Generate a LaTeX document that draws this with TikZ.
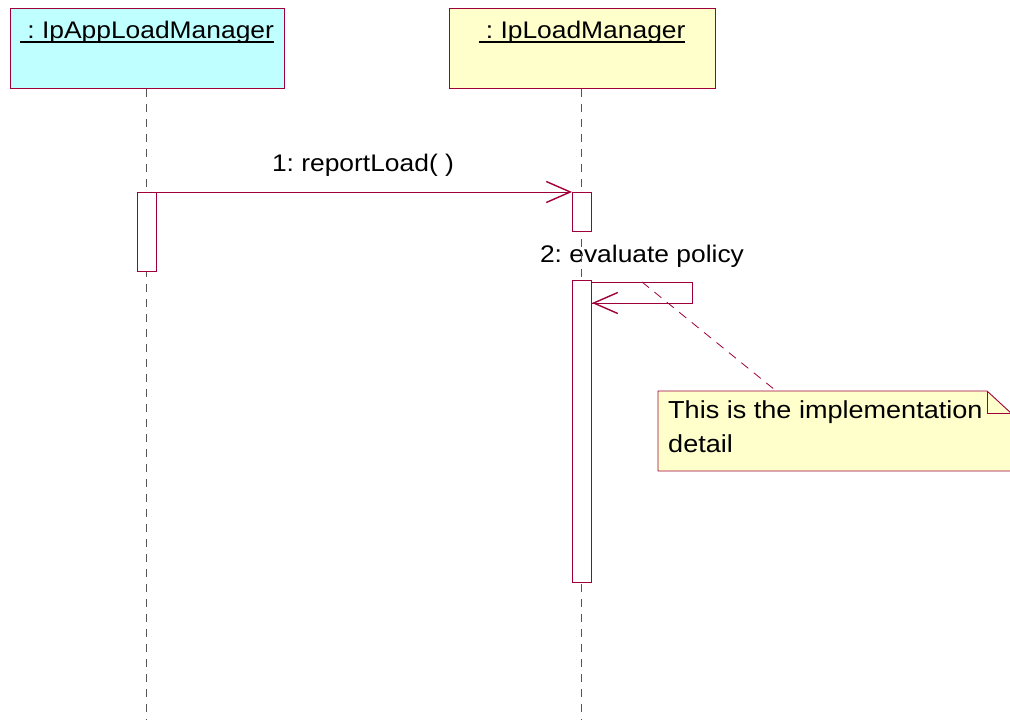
\documentclass[tikz,border=0pt]{standalone}
\usepackage{fontspec}
\setmainfont[FakeStretch=1.1]{Liberation Sans}
\usetikzlibrary{arrows.meta}
\definecolor{umlred}{HTML}{A0003A}
\definecolor{umlcyan}{HTML}{C0FFFF}
\definecolor{umlyellow}{HTML}{FFFFCC}
\definecolor{lifegray}{HTML}{555555}
\newcommand{\myul}[1]{\setbox0=\hbox{#1}\leavevmode\rlap{\rule[-4.5pt]{\wd0}{1.6pt}}\box0}
\tikzset{
  objbox/.style={draw=umlred, line width=0.9pt, minimum width=#1, minimum height=80pt, inner sep=0pt, anchor=north west},
  lbl/.style={font=\fontsize{24}{28}\selectfont, inner sep=0pt, anchor=base},
  notelbl/.style={font=\fontsize{24.6}{28}\selectfont, inner sep=0pt, anchor=base west},
  lifeline/.style={draw=lifegray, line width=1pt, dash pattern=on 8pt off 7pt},
  actbar/.style={draw=umlred, fill=white, line width=0.9pt, minimum width=19pt, minimum height=#1, inner sep=0pt, anchor=north west},
  msg/.style={draw=umlred, line width=0.9pt, -{Straight Barb[length=24pt,width=21pt,line width=1.4pt]}},
  notelink/.style={draw=umlred, line width=0.8pt, dash pattern=on 9pt off 7pt},
}
\begin{document}
\begin{tikzpicture}[x=1pt,y=-1pt]
\useasboundingbox (0,0) rectangle (1010,720);
\clip (0,0) rectangle (1010,720);
% object boxes
\node[objbox=274pt, fill=umlcyan] (app) at (10,8) {};
\node[objbox=266pt, fill=umlyellow] (mgr) at (449,8) {};
\node[lbl] (appt) at (147,38) {\myul{\ :\ IpAppLoadManager}};
\node[lbl] (mgrt) at (582,38) {\myul{\ :\ IpLoadManager}};
% message labels
\node[lbl] (m1t) at (363,171) {1:\ reportLoad(\ )};
\node[lbl] (m2t) at (642,262) {2:\ evaluate policy};
% lifelines
\coordinate (append) at (146,720);
\coordinate (mgrend) at (581,720);
\draw[lifeline] (app.south -| append) -- (append);
\draw[lifeline] (mgr.south -| mgrend) -- (mgrend);
% activation bars
\node[actbar=79pt] (bar1) at (137,192) {};
\node[actbar=39pt] (bar2) at (572,192) {};
\node[actbar=302pt] (bar3) at (572,280) {};
% message 1
\draw[msg] (bar1.north east) -- (bar2.north west);
% self message 2
\coordinate (s1) at (591,282);
\coordinate (s2) at (692,282);
\coordinate (s3) at (692,303);
\coordinate (s4) at (592,303);
\draw[draw=umlred, line width=0.9pt] (s1) -- (s2) -- (s3) -- (s4);
\draw[msg] (s3) -- (s4);
% note
\node[inner sep=0pt, minimum width=0pt] (noteanchor) at (775,390) {};
\coordinate (linkstart) at (642,282);
\path[fill=umlyellow, draw=umlred, line width=0.9pt] (658,391) -- (987,391) -- (1012,414) -- (1012,471) -- (658,471) -- cycle;
\draw[draw=umlred, line width=0.9pt] (987,391) -- (987,413) -- (1012,413);
\draw[notelink] (linkstart) -- (noteanchor);
\node[notelbl] (n1) at (668,418) {This is the implementation};
\node[notelbl] (n2) at (668,452) {detail};
\end{tikzpicture}
\end{document}
